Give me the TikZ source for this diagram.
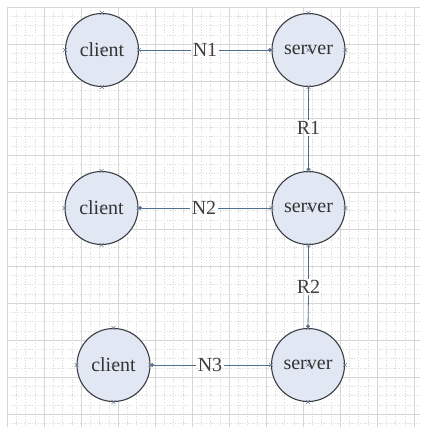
\documentclass[tikz,border=0pt]{standalone}
\usepackage{fontspec}
\setmainfont{Liberation Serif}
\usetikzlibrary{arrows.meta}
\definecolor{gridminor}{HTML}{DDDDDD}
\definecolor{gridmajor}{HTML}{D6D6D6}
\definecolor{nodefill}{HTML}{E1E8F3}
\definecolor{nodeedge}{HTML}{3C3C44}
\definecolor{linkcol}{HTML}{4F6F8C}
\definecolor{markcol}{HTML}{6A7A90}
\tikzset{
  hostnode/.style={circle, draw=nodeedge, line width=1.1pt, fill=nodefill,
    minimum size=73pt, inner sep=0pt, font=\fontsize{20}{22}\selectfont, text=black!80},
  linklabel/.style={inner sep=1.5pt, font=\fontsize{20}{22}\selectfont, text=black!75},
  link/.style={draw=linkcol, line width=0.8pt},
  tipdot/.style={-{Circle[length=3.5pt]}},
  tipdotstart/.style={{Circle[length=3.5pt]}-},
  xmark/.style={draw=markcol, line width=0.5pt}
}
\newcommand{\connmarks}[1]{%
  \foreach \a in {north,south,east,west,center}{
    \draw[xmark] ([shift={(-2pt,-2pt)}]#1.\a) -- ([shift={(2pt,2pt)}]#1.\a)
                 ([shift={(-2pt,2pt)}]#1.\a) -- ([shift={(2pt,-2pt)}]#1.\a);
  }}
\begin{document}
\begin{tikzpicture}[x=1pt,y=-1pt]
\useasboundingbox (0,0) rectangle (428,432);
\fill[white] (0,0) rectangle (428,432);
% grid
\foreach \i in {0,...,44}{
  \draw[gridminor, line width=0.4pt, dash pattern=on 1.2pt off 1.6pt] (7+9.25*\i,7) -- (7+9.25*\i,427);
}
\foreach \i in {0,...,45}{
  \draw[gridminor, line width=0.4pt, dash pattern=on 1.2pt off 1.6pt] (7,7+9.25*\i) -- (420,7+9.25*\i);
}
\foreach \i in {0,...,11}{
  \draw[gridmajor, line width=0.5pt] (7+37*\i,7) -- (7+37*\i,427);
  \draw[gridmajor, line width=0.5pt] (7,7+37*\i) -- (420,7+37*\i);
}
% hosts
\node[hostnode] (c1) at (102,50) {client};
\node[hostnode] (s1) at (308.5,50) {server};
\node[hostnode] (c2) at (101.5,208) {client};
\node[hostnode] (s2) at (308.5,208) {server};
\node[hostnode] (c3) at (113.5,365) {client};
\node[hostnode] (s3) at (308,365) {server};
% labels
\node[linklabel] (n1) at (205,50) {N1};
\node[linklabel] (n2) at (204,208) {N2};
\node[linklabel] (n3) at (210,365) {N3};
\node[linklabel] (r1) at (308.5,128) {R1};
\node[linklabel] (r2) at (308.5,287) {R2};
% links
\draw[link] (c1.east) -- (n1.west);
\draw[link, tipdot] (n1.east) -- (s1.west);
\draw[link, tipdotstart] (c2.east) -- (n2.west);
\draw[link] (n2.east) -- (s2.west);
\draw[link, tipdotstart] (c3.east) -- (n3.west);
\draw[link] (n3.east) -- (s3.west);
\draw[link] (s1.south) -- (r1.north);
\draw[link, tipdot] (r1.south) -- (s2.north);
\draw[link] (s2.south) -- (r2.north);
\draw[link, tipdot] (r2.south) -- (s3.north);
% connection point marks
\connmarks{c1}\connmarks{s1}\connmarks{c2}\connmarks{s2}\connmarks{c3}\connmarks{s3}
\end{tikzpicture}
\end{document}
